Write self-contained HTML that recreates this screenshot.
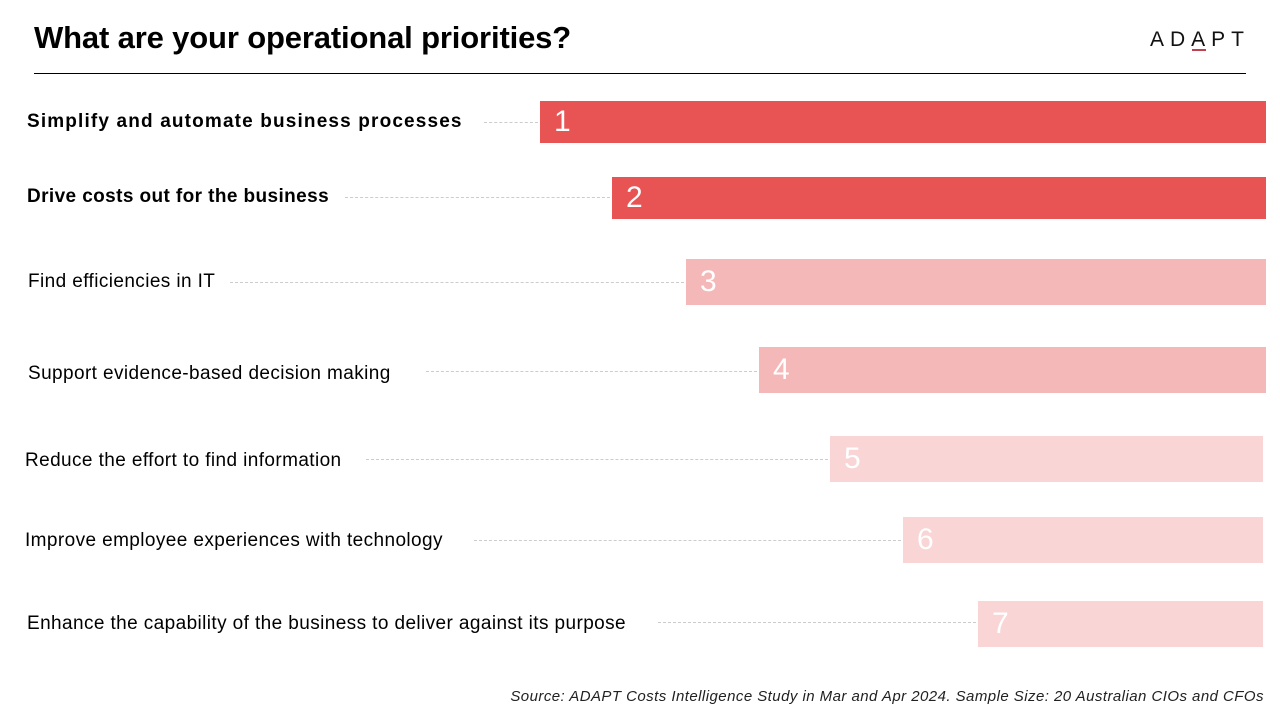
<!DOCTYPE html>
<html><head><meta charset="utf-8"><style>
body{margin:0;width:1280px;height:720px;background:#fff;position:relative;overflow:hidden;font-family:"Liberation Sans",Arial,sans-serif}
.t{position:absolute;left:34px;top:20px;font-size:31px;font-weight:bold;color:#000;letter-spacing:-0.15px}
.hr{position:absolute;left:34px;top:73px;width:1212px;height:1px;background:#000}
.logo{position:absolute;left:1150px;top:28px;font-size:21px;letter-spacing:6px;color:#111}
.lu{position:absolute;left:1192px;top:49px;width:14px;height:2px;background:#c04050}
.l{position:absolute;font-size:19px;color:#000;white-space:nowrap;letter-spacing:0.4px}
.b{font-weight:bold}
.d{position:absolute;height:0;border-top:1px dashed #ccc}
.bar{position:absolute;color:#fff;font-size:30px;padding-left:14px;box-sizing:border-box;display:flex;align-items:center}
.src{position:absolute;right:16px;top:688px;font-size:15px;font-style:italic;color:#222;letter-spacing:0.45px}
</style></head><body>
<div class="t">What are your operational priorities?</div>
<div class="hr"></div>
<div class="logo">ADAPT</div><div class="lu"></div>

<div class="l b" style="left:27px;top:111px;letter-spacing:1.15px">Simplify and automate business processes</div>
<div class="d" style="left:484px;width:54px;top:122px"></div>
<div class="bar" style="left:540px;top:101px;width:726px;height:42px;background:#e85454">1</div>

<div class="l b" style="left:27px;top:186px;letter-spacing:0.4px">Drive costs out for the business</div>
<div class="d" style="left:345px;width:265px;top:197px"></div>
<div class="bar" style="left:612px;top:177px;width:654px;height:42px;background:#e85454">2</div>

<div class="l" style="left:28px;top:271px">Find efficiencies in IT</div>
<div class="d" style="left:230px;width:454px;top:282px"></div>
<div class="bar" style="left:686px;top:259px;width:580px;height:46px;background:#f5b8b8">3</div>

<div class="l" style="left:28px;top:363px">Support evidence-based decision making</div>
<div class="d" style="left:426px;width:331px;top:371px"></div>
<div class="bar" style="left:759px;top:347px;width:507px;height:46px;background:#f5b8b8">4</div>

<div class="l" style="left:25px;top:450px">Reduce the effort to find information</div>
<div class="d" style="left:366px;width:462px;top:459px"></div>
<div class="bar" style="left:830px;top:436px;width:433px;height:46px;background:#f9d5d5">5</div>

<div class="l" style="left:25px;top:530px">Improve employee experiences with technology</div>
<div class="d" style="left:474px;width:427px;top:540px"></div>
<div class="bar" style="left:903px;top:517px;width:360px;height:46px;background:#f9d5d5">6</div>

<div class="l" style="left:27px;top:613px">Enhance the capability of the business to deliver against its purpose</div>
<div class="d" style="left:658px;width:318px;top:622px"></div>
<div class="bar" style="left:978px;top:601px;width:285px;height:46px;background:#f9d5d5">7</div>

<div class="src">Source: ADAPT Costs Intelligence Study in Mar and Apr 2024. Sample Size: 20 Australian CIOs and CFOs</div>
</body></html>
